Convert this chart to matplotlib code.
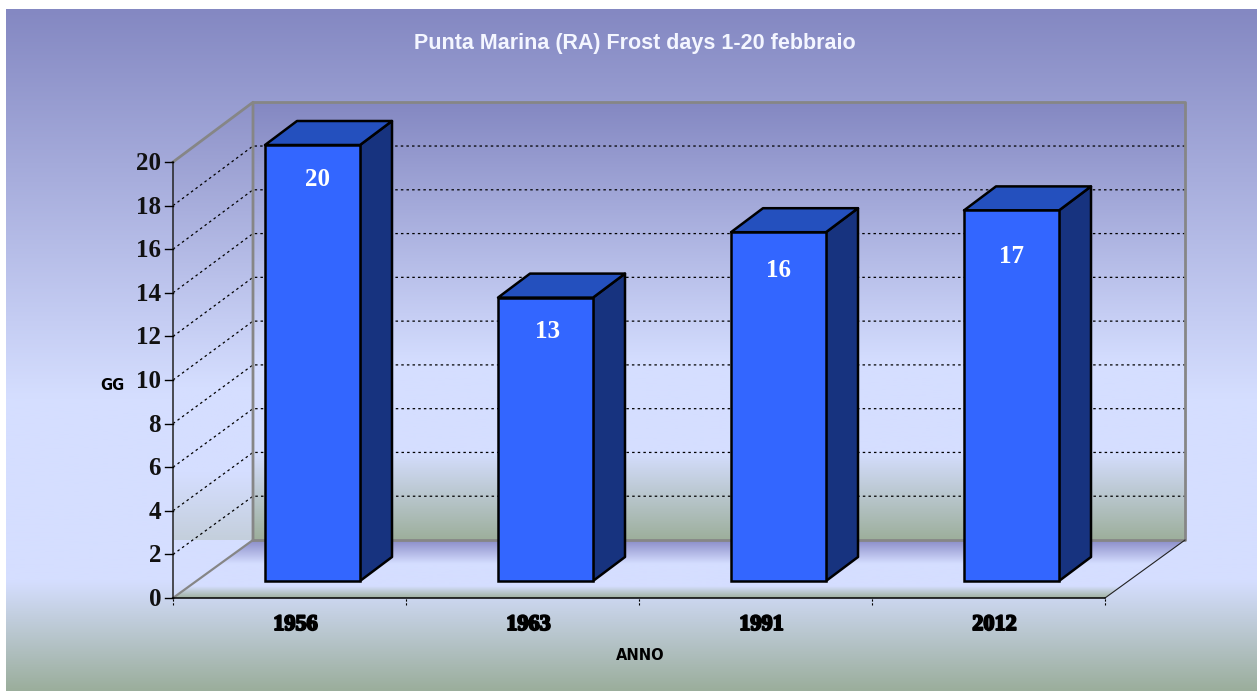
import numpy as np
import matplotlib
matplotlib.use("Agg")
import matplotlib.pyplot as plt
import matplotlib.patheffects as pe
from matplotlib.colors import LinearSegmentedColormap
from matplotlib.patches import Polygon

# data
years = ["1956", "1963", "1991", "2012"]
days = [20, 13, 16, 17]
yticks = [0, 2, 4, 6, 8, 10, 12, 14, 16, 18, 20]

# size of the picture and the pixel scale of the axes
W, H = 1257, 691
X0, Y0 = 173, 598     # pixel of the origin
CAT = 233.0           # pixels per category
UNIT = 21.8           # pixels per day

# 3d offsets in data units
wall_dx, wall_dy = 80 / CAT, 58 / UNIT
wall_scale = 1.004    # back wall is a touch taller than the front axis
bar_dx, bar_dy = 32 / CAT, 24 / UNIT
bar_w = 95 / CAT
bar_base = 17 / UNIT
bar_shift = 23 / CAT
# labels are not placed evenly on the bars (pixels)
label_down = [33, 33, 37, 45]
label_right = [5, 2, 0, 0]

BLUE1 = "#8488C2"
LIGHT = "#D5DEFF"
GREEN = "#9BAE9C"

fig = plt.figure(figsize=(W / 100, H / 100), dpi=100, facecolor="white")
ax = fig.add_axes([0, 0, 1, 1])
ax.axis("off")


def xd(px):
    return (px - X0) / CAT


def yd(py):
    return (Y0 - py) / UNIT


def wy(v):
    # height of value v on the back wall
    return wall_dy + v * wall_scale


def gradient(left, right, top, bottom, stops, clip=None, z=0):
    cmap = LinearSegmentedColormap.from_list("g", stops, N=256)
    grad = np.linspace(0, 1, 256).reshape(-1, 1)
    im = ax.imshow(grad, cmap=cmap, aspect="auto", zorder=z, vmin=0, vmax=1,
                   extent=(xd(left), xd(right), yd(bottom), yd(top)), origin="upper")
    if clip is not None:
        im.set_clip_path(Polygon(clip, transform=ax.transData))


# background
gradient(6, W, 9, H, [(0, BLUE1), (0.57, LIGHT), (0.84, LIGHT), (1, GREEN)], z=0)

# side wall
side = [(0, 0), (wall_dx, wy(0)), (wall_dx, wy(20)), (0, 20)]
gradient(X0, 253, 102, 540, [(0, "#8E92C8"), (0.65, LIGHT), (0.85, LIGHT), (1, "#C4CFDC")], clip=side, z=1)

# back wall
back = [(wall_dx, wy(0)), (4 + wall_dx, wy(0)), (4 + wall_dx, wy(20)), (wall_dx, wy(20))]
gradient(253, 1185, 102, 540, [(0, BLUE1), (0.6, LIGHT), (0.8, LIGHT), (1, "#9DAF9C")], clip=back, z=1)

# floor
floor = [(0, 0), (4, 0), (4 + wall_dx, wy(0)), (wall_dx, wy(0))]
gradient(X0, 1185, 540, Y0, [(0, "#8789C6"), (0.42, LIGHT), (0.8, LIGHT), (1, "#A0B2A0")], clip=floor, z=2)

# grid lines
for v in yticks[1:-1]:
    ax.plot([0, wall_dx, 4 + wall_dx], [v, wy(v), wy(v)], color="black",
            lw=0.9, ls=(0, (2, 2.5)), zorder=3)

# wall edges
ax.plot([0, wall_dx, wall_dx], [20, wy(20), wy(0)], color="#868686", lw=2, zorder=4)
ax.plot([wall_dx, 4 + wall_dx, 4 + wall_dx, wall_dx], [wy(20), wy(20), wy(0), wy(0)],
        color="#868686", lw=2, zorder=4)
ax.plot([0, wall_dx], [0, wy(0)], color="#868686", lw=1.6, zorder=4)
ax.plot([4, 4 + wall_dx], [0, wy(0)], color="#222222", lw=0.8, zorder=4)

# axes lines and ticks
ax.plot([0, 0], [0, 20], color="#222222", lw=1.1, zorder=6)
ax.plot([0, 4], [0, 0], color="black", lw=1.1, zorder=6)
for v in yticks:
    ax.plot([xd(X0 - 8), 0], [v, v], color="black", lw=1.0, zorder=6)
    ax.text(xd(161), v - 1.5 / UNIT, str(v), ha="right", va="center", family="Liberation Serif",
            weight="bold", fontsize=18, color="#111111", zorder=7)
for i in range(5):
    ax.plot([i, i], [yd(Y0 + 7), 0], color="black", lw=0.8, ls=(0, (2, 1.5)), zorder=6)

# bars
pos = np.arange(len(days)) + 0.5 + bar_shift
ax.bar(pos, days, width=bar_w, bottom=bar_base, color="#3366FF", edgecolor="black", linewidth=1.8, zorder=10)
for i, d in enumerate(days):
    l, r = pos[i] - bar_w / 2, pos[i] + bar_w / 2
    b, t = bar_base, bar_base + d
    ax.add_patch(Polygon([(r, b), (r + bar_dx, b + bar_dy), (r + bar_dx, t + bar_dy), (r, t)],
                         facecolor="#17337F", edgecolor="black", lw=1.8, zorder=9, joinstyle="round"))
    ax.add_patch(Polygon([(l, t), (l + bar_dx, t + bar_dy), (r + bar_dx, t + bar_dy), (r, t)],
                         facecolor="#2450BE", edgecolor="black", lw=1.8, zorder=9, joinstyle="round"))
    ax.text(pos[i] + label_right[i] / CAT, t - (label_down[i] + 1) / UNIT, str(d), ha="center", va="center",
            family="Liberation Serif", weight="bold", fontsize=18, color="white", zorder=11)
    # squeezed, heavy looking year labels
    ax.text(i + 0.5 + 6 / CAT, yd(625), years[i], ha="center", va="center", family="Liberation Serif",
            weight="bold", fontsize=16, color="black", zorder=7,
            path_effects=[pe.withStroke(linewidth=1.4, foreground="black")])

# titles
ax.text(xd(635), yd(43), "Punta Marina (RA) Frost days 1-20 febbraio", ha="center", va="center",
        family="Liberation Sans", weight="bold", fontsize=15.5, color="#F4F6FF", zorder=7)
ax.text(xd(112), yd(386), "GG", ha="center", va="center", family="DejaVu Sans", weight="bold",
        fontsize=10.5, color="black", zorder=7)
ax.text(xd(640), yd(656), "ANNO", ha="center", va="center", family="DejaVu Sans", weight="bold",
        fontsize=10.5, color="black", zorder=7)

ax.set_xlim(xd(0), xd(W))
ax.set_ylim(yd(H), yd(0))

fig.savefig("out.png", dpi=100, facecolor="white")
